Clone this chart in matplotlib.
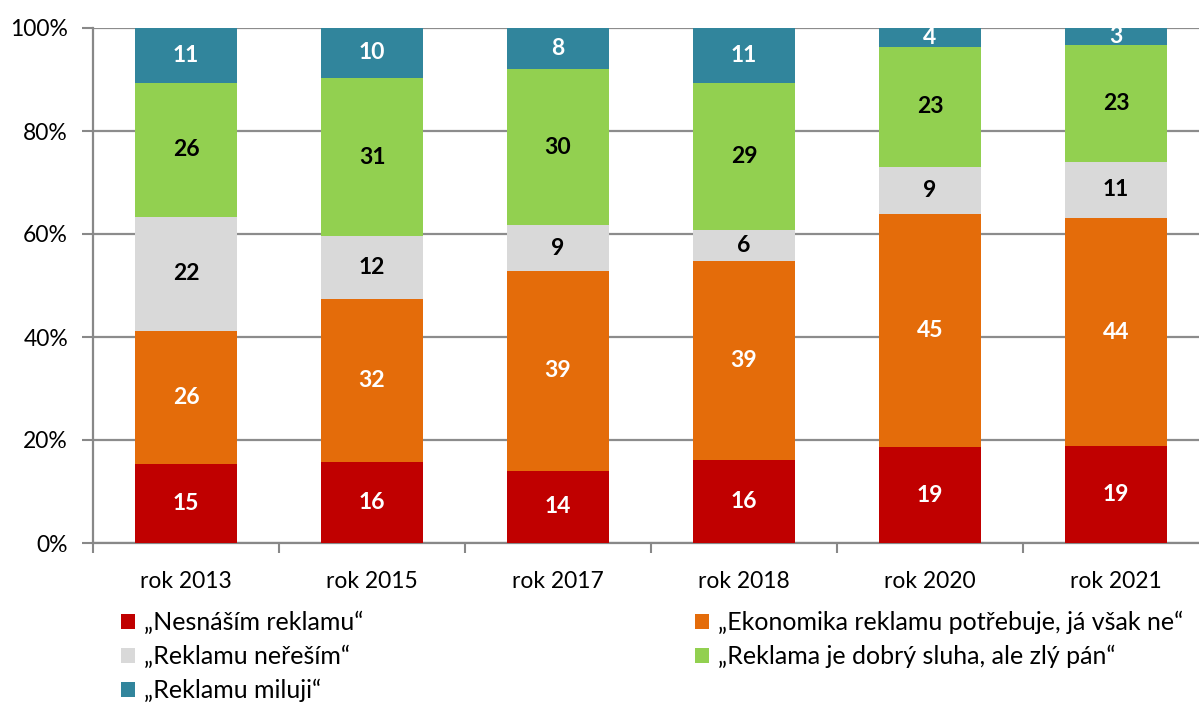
import numpy as np
import matplotlib.pyplot as plt

plt.rcParams['font.family'] = ['Lato', 'DejaVu Sans']

roky = ['rok 2013', 'rok 2015', 'rok 2017', 'rok 2018', 'rok 2020', 'rok 2021']

# podily v %
nesnasim = [15.4, 15.7, 14.0, 16.1, 18.6, 18.8]
ekonomika = [25.8, 31.7, 38.8, 38.7, 45.3, 44.3]
neresim = [22.1, 12.2, 8.9, 6.0, 9.2, 10.9]
sluha = [26.1, 30.7, 30.3, 28.6, 23.3, 22.7]
miluji = [10.6, 9.7, 8.0, 10.6, 3.6, 3.3]

serie = [
    (nesnasim, '„Nesnáším reklamu“', '#c00000', 'white'),
    (ekonomika, '„Ekonomika reklamu potřebuje, já však ne“', '#e46c0a', 'white'),
    (neresim, '„Reklamu neřeším“', '#d9d9d9', 'black'),
    (sluha, '„Reklama je dobrý sluha, ale zlý pán“', '#92d050', 'black'),
    (miluji, '„Reklamu miluji“', '#31859c', 'white'),
]

fig = plt.figure(figsize=(11.99, 7.02), dpi=100)
ax = fig.add_axes([93/1199, 159/702, 6*186/1199, 515/702])

x = np.arange(len(roky))
dole = np.zeros(len(roky))
handles = {}
for hodnoty, nazev, barva, txt in serie:
    h = ax.bar(x, hodnoty, 0.55, bottom=dole, color=barva, label=nazev, zorder=3)
    handles[nazev] = h
    for xi, b, v in zip(x, dole, hodnoty):
        ax.text(xi, b + v/2, '{:.0f}'.format(v), ha='center', va='center',
                color=txt, fontsize=16.5, fontweight='bold', zorder=4)
    dole = dole + np.array(hodnoty)

ax.set_xlim(-0.5, len(roky) - 0.5)
ax.set_ylim(0, 100)
ax.set_yticks([0, 20, 40, 60, 80, 100])
ax.set_yticklabels(['0%', '20%', '40%', '60%', '80%', '100%'])
ax.set_xticks(x)
ax.set_xticklabels(roky)
ax.set_xticks(np.arange(-0.5, len(roky)), minor=True)
ax.tick_params(axis='x', which='major', length=0, pad=20, labelsize=16.5)
ax.tick_params(axis='x', which='minor', length=7, width=1.5, color='#888888')
ax.tick_params(axis='y', length=8, width=1.5, color='#888888', labelsize=16.5, pad=10)
ax.grid(axis='y', color='#8c8c8c', linewidth=1.6, zorder=0)
for s in ['top', 'right']:
    ax.spines[s].set_visible(False)
for s in ['left', 'bottom']:
    ax.spines[s].set_color('#888888')
    ax.spines[s].set_linewidth(1.6)

poradi = [serie[0][1], serie[2][1], serie[4][1], serie[1][1], serie[3][1]]
fig.legend([handles[n] for n in poradi], poradi, ncol=2, loc='upper left',
           bbox_to_anchor=(121/1199, 1 - 611/702), frameon=False, fontsize=18,
           handlelength=0.55, handleheight=0.55, handletextpad=0.35,
           columnspacing=13.3, labelspacing=0.42, borderaxespad=0, borderpad=0)

fig.savefig('out.png', dpi=100)
